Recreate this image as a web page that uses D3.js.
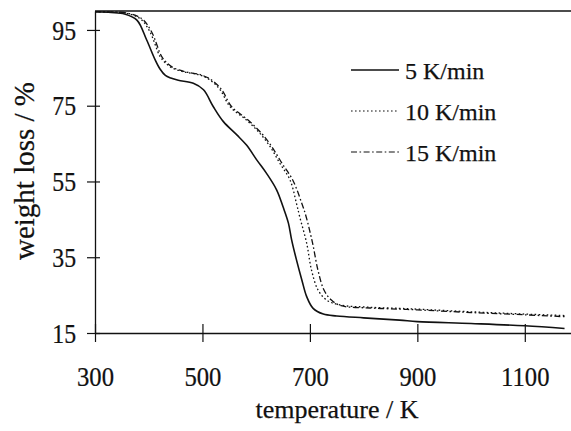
<!DOCTYPE html>
<html>
<head>
<meta charset="utf-8">
<script src="https://cdn.jsdelivr.net/npm/d3@7"></script>
<style>
  body { margin: 0; background: #fff; }
  svg { display: block; }
  text { font-family: "Liberation Serif", "DejaVu Serif", serif; fill: #111; stroke: #111; stroke-width: 0.25px; }
</style>
</head>
<body>
<svg width="571" height="431"></svg>
<script>
// series: temperature (K) and weight loss (%)
const temp5 = [300, 330, 355, 378, 396, 412, 421, 431, 441, 455, 483, 502, 520, 539, 564, 582, 601, 619, 638, 650, 660, 666, 675, 685, 694, 706, 725, 750, 800, 867, 900, 1000, 1100, 1174];
const loss5 = [99.8, 99.6, 99.2, 97.6, 92.4, 87.1, 84.7, 83.0, 82.3, 81.7, 80.9, 79.2, 74.8, 70.8, 67.3, 64.6, 60.7, 57.2, 52.8, 48.3, 44.0, 39.6, 34.3, 29.0, 24.6, 21.5, 20.0, 19.5, 19.0, 18.4, 18.0, 17.5, 16.9, 16.2];

const temp10 = [300, 330, 355, 384, 402, 421, 431, 443, 464, 495, 514, 533, 551, 582, 607, 626, 644, 663, 675, 681, 694, 703, 715, 731, 756, 812, 867, 900, 1000, 1100, 1174];
const loss10 = [99.8, 99.7, 99.5, 98.0, 94.6, 88.0, 86.3, 85.0, 84.0, 83.1, 81.8, 79.2, 74.8, 71.2, 67.7, 64.2, 59.8, 55.4, 49.2, 45.7, 38.7, 31.6, 26.4, 23.7, 22.4, 21.8, 21.5, 21.3, 20.6, 20.0, 19.6];

const temp15 = [300, 332, 358, 387, 405, 424, 434, 446, 467, 498, 517, 536, 554, 585, 610, 629, 648, 668, 685, 693, 705, 715, 726, 740, 758, 812, 867, 900, 1000, 1100, 1174];
const loss15 = [99.8, 99.7, 99.5, 98.0, 94.6, 88.0, 86.3, 85.0, 84.0, 83.1, 81.8, 79.2, 74.8, 71.2, 67.7, 64.2, 59.8, 55.4, 49.2, 45.7, 38.7, 31.6, 26.4, 23.7, 22.2, 21.6, 21.3, 21.1, 20.4, 19.8, 19.3];

const seriesNames = ["5 K/min", "10 K/min", "15 K/min"];
const xTicks = [300, 500, 700, 900, 1100];
const yTicks = [15, 35, 55, 75, 95];

const series = [
  { name: seriesNames[0], t: temp5, w: loss5, dash: null },
  { name: seriesNames[1], t: temp10, w: loss10, dash: "1.6,2.4" },
  { name: seriesNames[2], t: temp15, w: loss15, dash: "6,2.5,1.6,2.5" }
];

const svg = d3.select("svg");

const x = d3.scaleLinear().domain([300, 1186]).range([95, 571]);
const y = d3.scaleLinear().domain([15, 100]).range([333, 11]);

// frame: top line and axes
svg.append("line")
  .attr("x1", x(300)).attr("x2", x(1186))
  .attr("y1", y(100)).attr("y2", y(100))
  .attr("stroke", "#111").attr("stroke-width", 1.4);

const xAxis = svg.append("g")
  .attr("transform", "translate(0," + y(15) + ")")
  .call(d3.axisBottom(x).tickValues(xTicks).tickFormat(d3.format("d")).tickSizeOuter(0));
xAxis.attr("font-family", null);
xAxis.select(".domain").attr("stroke", "#111").attr("stroke-width", 1.3);
xAxis.selectAll(".tick line").attr("y1", -9).attr("y2", 9).attr("stroke", "#111").attr("stroke-width", 1.2);
xAxis.selectAll(".tick text")
  .attr("y", 53).attr("dy", null)
  .attr("transform", "scale(0.88,1)")
  .style("font-size", "28px");

const yAxis = svg.append("g")
  .attr("transform", "translate(" + x(300) + ",0)")
  .call(d3.axisLeft(y).tickValues(yTicks).tickSizeOuter(0));
yAxis.attr("font-family", null);
yAxis.select(".domain").attr("stroke", "#111").attr("stroke-width", 1.3);
yAxis.selectAll(".tick line").attr("x1", -8).attr("x2", 5).attr("stroke", "#111").attr("stroke-width", 1.2);
yAxis.selectAll(".tick text")
  .attr("x", -21.5).attr("dy", "0.34em")
  .attr("transform", "scale(0.88,1)")
  .style("font-size", "27px");

// curves
const line = d3.line()
  .x((d) => x(d[0]))
  .y((d) => y(d[1]))
  .curve(d3.curveCatmullRom.alpha(0.5));

series.forEach((s) => {
  svg.append("path")
    .datum(d3.zip(s.t, s.w))
    .attr("d", line)
    .attr("fill", "none")
    .attr("stroke", "#111")
    .attr("stroke-width", s.dash ? 1.3 : 1.6)
    .attr("stroke-dasharray", s.dash);
});

// legend
const legend = svg.append("g");
series.forEach((s, i) => {
  const ly = 70 + i * 41;
  legend.append("line")
    .attr("x1", 351).attr("x2", 399)
    .attr("y1", ly).attr("y2", ly)
    .attr("stroke", "#111")
    .attr("stroke-width", s.dash ? 1.2 : 1.5)
    .attr("stroke-dasharray", s.dash);
  legend.append("text")
    .attr("x", 405).attr("y", ly + 9)
    .style("font-size", "24px")
    .text(s.name);
});

// axis titles
svg.append("text")
  .attr("x", 337).attr("y", 418)
  .attr("text-anchor", "middle")
  .style("font-size", "26px")
  .text("temperature / K");

svg.append("text")
  .attr("transform", "translate(34,171) rotate(-90)")
  .attr("text-anchor", "middle")
  .style("font-size", "29px")
  .text("weight loss / %");
</script>
</body>
</html>
